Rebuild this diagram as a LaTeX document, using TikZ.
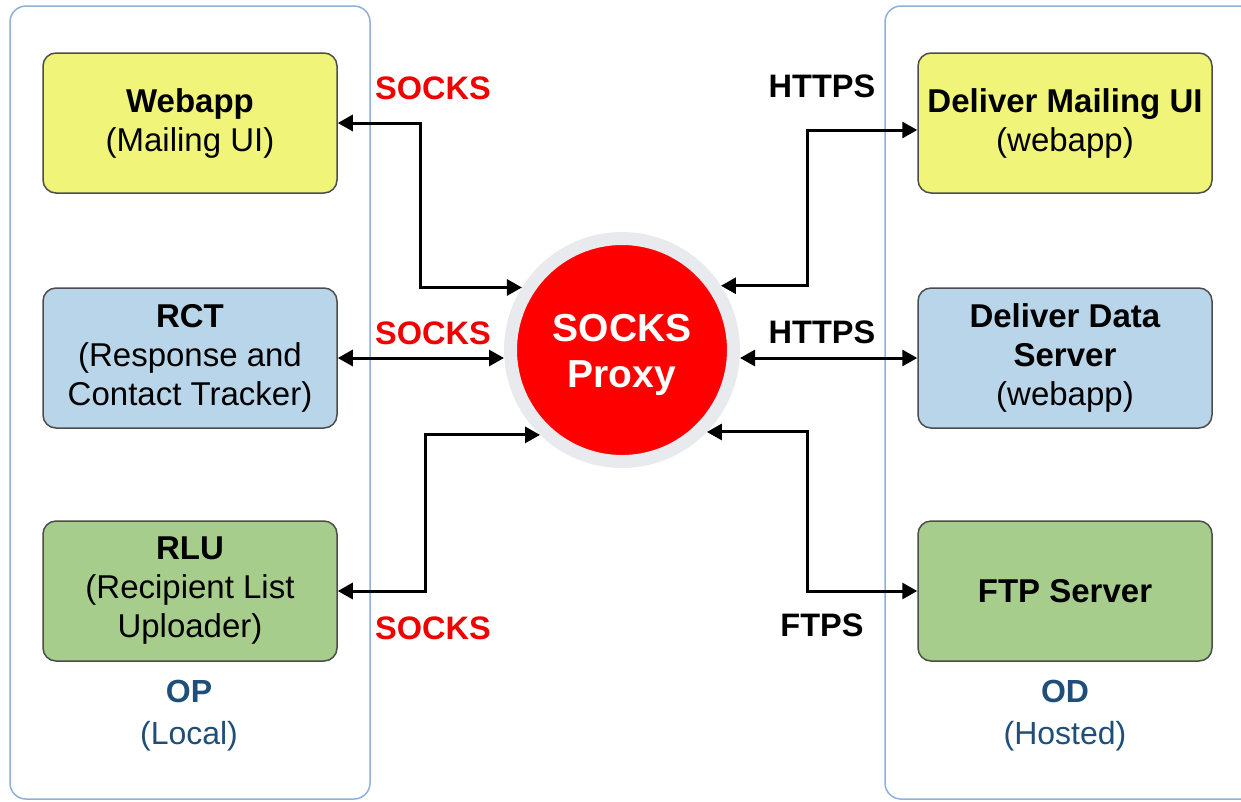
\documentclass[tikz,border=0pt]{standalone}
\usepackage{fontspec}
\setmainfont{Liberation Sans}
\usetikzlibrary{arrows.meta}

\definecolor{boxyellow}{RGB}{240,245,122}
\definecolor{boxblue}{RGB}{185,213,234}
\definecolor{boxgreen}{RGB}{166,205,139}
\definecolor{frameblue}{RGB}{141,177,216}
\definecolor{ringgray}{RGB}{232,234,237}
\definecolor{sitetext}{RGB}{31,78,121}
\definecolor{socksred}{RGB}{240,0,0}

\tikzset{
    site/.style={draw=frameblue, line width=1.5pt, rounded corners=16pt},
    app/.style={draw=black!70, line width=1.5pt, rounded corners=13pt,
        minimum width=294pt, minimum height=140pt, align=center,
        font=\fontsize{33}{39}\selectfont},
    link/.style={line width=3pt,
        {Triangle[length=15pt,width=16pt]}-{Triangle[length=15pt,width=16pt]}},
    proto/.style={font=\fontsize{32.5}{38}\selectfont\bfseries},
    sitename/.style={text=sitetext, align=center, font=\fontsize{32}{42}\selectfont}
}

\begin{document}
\begin{tikzpicture}[x=1pt, y=-1pt]
    \useasboundingbox (0,0) rectangle (1241,801);
    \clip (0,0) rectangle (1241,801);

    % Zonas: local y hospedada
    \draw[site] (10,6) rectangle (370,799);
    \draw[site] (885,6) rectangle (1265,799);

    % Aplicaciones locales
    \node[app, fill=boxyellow] (webapp) at (190,123) {\textbf{Webapp}\\(Mailing UI)};
    \node[app, fill=boxblue] (rct) at (190,358) {\textbf{RCT}\\(Response and\\Contact Tracker)};
    \node[app, fill=boxgreen] (rlu) at (190,591) {\textbf{RLU}\\(Recipient List\\Uploader)};

    % Servicios hospedados
    \node[app, fill=boxyellow] (dmui) at (1065,123) {\textbf{Deliver Mailing UI}\\(webapp)};
    \node[app, fill=boxblue] (dds) at (1065,358) {\textbf{Deliver Data}\\\textbf{Server}\\(webapp)};
    \node[app, fill=boxgreen] (ftp) at (1065,591) {\textbf{FTP Server}};

    % Proxy central
    \node[circle, fill=red, draw=ringgray, line width=13pt, minimum size=223pt,
          text=white, align=center, font=\fontsize{39}{46}\selectfont\bfseries]
          (proxy) at (622,350) {};
    \node[text=white, align=center, font=\fontsize{39}{46}\selectfont\bfseries]
          (proxytext) at (622,355) {SOCKS\\Proxy};

    % Conexiones
    \draw[link] (webapp.east) -- ++(83,0) |- (proxy.148);
    \draw[link] (rct.east) -- (rct.east -| proxy.west);
    \draw[link] (rlu.east) -- ++(88,0) |- (proxy.226);
    \draw[link] ([yshift=-7pt]dmui.west) -- ++(-110,0) |- (proxy.33);
    \draw[link] (dds.west) -- (dds.west -| proxy.east);
    \draw[link] (ftp.west) -- ++(-110,0) |- (proxy.-44);

    % Protocolos
    \node[proto, text=socksred] (socks1) at (433,88) {SOCKS};
    \node[proto, text=socksred] (socks2) at (433,333) {SOCKS};
    \node[proto, text=socksred] (socks3) at (433,628) {SOCKS};
    \node[proto] (https1) at (822,86) {HTTPS};
    \node[proto] (https2) at (822,332) {HTTPS};
    \node[proto] (ftps) at (822,625) {FTPS};

    % Nombres de zona
    \node[sitename] (op) at (189,716) {\textbf{OP}\\(Local)};
    \node[sitename] (od) at (1065,716) {\textbf{OD}\\(Hosted)};
\end{tikzpicture}
\end{document}
